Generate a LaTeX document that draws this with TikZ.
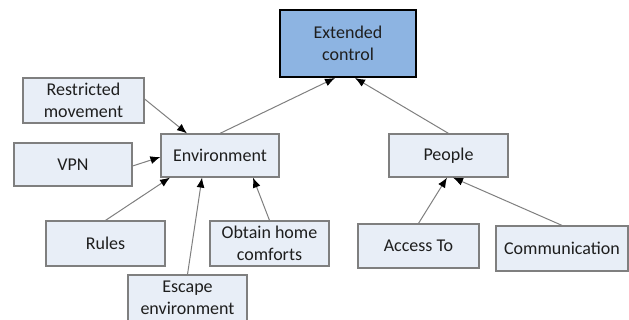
\documentclass[tikz,border=0pt]{standalone}
\usepackage{fontspec}
\setmainfont{Carlito}
\usetikzlibrary{arrows.meta}
\definecolor{boxfill}{HTML}{E8EEF7}
\definecolor{boxline}{HTML}{7F7F7F}
\definecolor{topfill}{HTML}{8DB4E2}
\definecolor{txt}{HTML}{1E1E1E}
\tikzset{
  box/.style={draw=boxline, line width=1.2pt, fill=boxfill, inner sep=0pt, align=center,
    text=txt, font=\fontsize{18pt}{22pt}\selectfont},
  topbox/.style={box, draw=black, line width=2pt, fill=topfill},
  conn/.style={draw=boxline, line width=1pt, -{Latex[length=10pt,width=8pt,black]}}
}
\begin{document}
\begin{tikzpicture}[x=1pt,y=-1pt]
\useasboundingbox (0,0) rectangle (629,320);
\node[topbox, minimum width=136pt, minimum height=67pt] (ext) at (348,43.5) {Extended\\control};
\node[box, minimum width=121pt, minimum height=45pt] (rm) at (83.5,100.5) {Restricted\\movement};
\node[box, minimum width=118pt, minimum height=43pt] (vpn) at (73,164.5) {VPN};
\node[box, minimum width=118pt, minimum height=43pt] (env) at (220,155.5) {Environment};
\node[box, minimum width=119pt, minimum height=45pt] (rules) at (105.5,243.5) {Rules};
\node[box, minimum width=119pt, minimum height=45pt] (obt) at (269.5,243.5) {Obtain home\\comforts};
\node[box, minimum width=119pt, minimum height=46pt] (esc) at (187.5,298) {Escape\\environment};
\node[box, minimum width=119pt, minimum height=43pt] (peo) at (448.5,155.5) {People};
\node[box, minimum width=121pt, minimum height=44pt] (acc) at (418.5,246) {Access To};
\node[box, minimum width=132pt, minimum height=45pt] (com) at (562,248.5) {Communication};
\draw[conn] (env.north) -- ([xshift=-13pt]ext.south);
\draw[conn] (peo.north) -- ([xshift=7pt]ext.south);
\draw[conn] ([yshift=1.5pt]rm.east) -- ([xshift=-33pt]env.north);
\draw[conn] ([yshift=-1.5pt]vpn.east) -- ([yshift=-1.5pt]env.west);
\draw[conn] (rules.north) -- ([xshift=-50pt]env.south);
\draw[conn] (esc.north) -- ([xshift=-18pt]env.south);
\draw[conn] (obt.north) -- ([xshift=33pt]env.south);
\draw[conn] (acc.north) -- ([xshift=-1.5pt]peo.south);
\draw[conn] (com.north) -- ([xshift=4.5pt]peo.south);
\end{tikzpicture}
\end{document}
